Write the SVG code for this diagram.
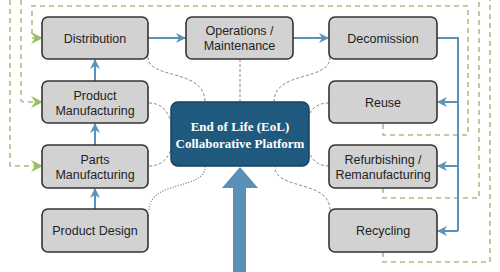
<svg xmlns="http://www.w3.org/2000/svg" width="500" height="272" viewBox="0 0 500 272">
<defs>
<style>
.node rect{fill:#d2d2d2;stroke:#333;stroke-width:1.6}
.node text{font-family:"Liberation Sans",Arial,sans-serif;font-size:12.5px;fill:#222;text-anchor:middle}
.hub rect{fill:#1f5a7e;stroke:#15415c;stroke-width:1.5}
.hub text{font-family:"Liberation Serif","Times New Roman",serif;font-weight:bold;font-size:13px;fill:#fff;text-anchor:middle}
.flow{fill:none;stroke:#5b92b8;stroke-width:2}
.loop{fill:none;stroke:#a9bc86;stroke-width:1.6;stroke-dasharray:5 4}
.gchev{fill:#93c262}
.link{fill:none;stroke:#8a8a8a;stroke-width:1;stroke-dasharray:3 2}
.dot{fill:none;stroke:#8a8a8a;stroke-width:1.2;stroke-dasharray:1.2 1.5}
</style>
<marker id="ah" markerWidth="10" markerHeight="10" refX="9" refY="5" orient="auto" markerUnits="userSpaceOnUse">
<path d="M0,0 L10,5 L0,10 L3,5 Z" fill="#5b92b8"/>
</marker>
</defs>
<rect width="500" height="272" fill="#fff"/>

<g id="connectors">
<path class="link" d="M148,57 C148,80 205,68 205,102"/>
<path class="link" d="M240,59 V102"/>
<path class="link" d="M330,57 C330,82 274,70 274,102"/>
<path class="link" d="M149,103 C162,103 168,112 171,122"/>
<path class="link" d="M149,166 C162,166 168,158 171,149"/>
<path class="dot" d="M149,210 C150,180 205,190 205,167"/>
<path class="link" d="M329,103 C318,103 312,108 309,115"/>
<path class="link" d="M329,166 C318,166 312,160 309,152"/>
<path class="link" d="M330,210 C330,180 275,190 275,167"/>

<path class="loop" d="M383,124 V135 H468 V6 H32 V38 H36"/>
<polygon class="gchev" points="43,38 31,32 35,38 31,44"/>
<path class="loop" d="M383,188 V198 H479 V0"/>
<path class="loop" d="M21,0 V100 Q21,102 24,102 H36"/>
<polygon class="gchev" points="43,102 31,96 35,102 31,108"/>
<path class="loop" d="M383,252 V262 H490 V0"/>
<path class="loop" d="M10,0 V166 H36"/>
<polygon class="gchev" points="43,166 31,160 35,166 31,172"/>

<path class="flow" d="M148,38 H185" marker-end="url(#ah)"/>
<path class="flow" d="M293,38 H328" marker-end="url(#ah)"/>
<path class="flow" d="M95,81 V60" marker-end="url(#ah)"/>
<path class="flow" d="M95,145 V124" marker-end="url(#ah)"/>
<path class="flow" d="M95,209 V189" marker-end="url(#ah)"/>
<path class="flow" d="M437,38 H458 V231"/>
<path class="flow" d="M458,102 H438" marker-end="url(#ah)"/>
<path class="flow" d="M458,166 H438" marker-end="url(#ah)"/>
<path class="flow" d="M458,231 H438" marker-end="url(#ah)"/>

<polygon points="233,272 233,188 222,188 240,167 258,188 246,188 246,272" fill="#5a8fb7"/>
</g>

<g id="distribution" class="node"><rect x="42" y="17" width="106" height="42" rx="6"/><text x="95" y="42.5">Distribution</text></g>
<g id="product-manufacturing" class="node"><rect x="42" y="81" width="106" height="42" rx="6"/><text x="95" y="99.5">Product</text><text x="95" y="114.5">Manufacturing</text></g>
<g id="parts-manufacturing" class="node"><rect x="42" y="145" width="106" height="43" rx="6"/><text x="95" y="163.5">Parts</text><text x="95" y="178.5">Manufacturing</text></g>
<g id="product-design" class="node"><rect x="42" y="209" width="106" height="43" rx="6"/><text x="95" y="235">Product Design</text></g>
<g id="operations" class="node"><rect x="186" y="17" width="107" height="42" rx="6"/><text x="239.5" y="35">Operations /</text><text x="239.5" y="50">Maintenance</text></g>
<g id="decomission" class="node"><rect x="329" y="17" width="108" height="42" rx="6"/><text x="383" y="42.5">Decomission</text></g>
<g id="reuse" class="node"><rect x="329" y="81" width="108" height="42" rx="6"/><text x="383" y="106.5">Reuse</text></g>
<g id="refurbishing" class="node"><rect x="329" y="145" width="108" height="43" rx="6"/><text x="383" y="163.5">Refurbishing /</text><text x="383" y="178.5">Remanufacturing</text></g>
<g id="recycling" class="node"><rect x="329" y="209" width="108" height="43" rx="6"/><text x="383" y="235">Recycling</text></g>
<g id="eol-platform" class="hub"><rect x="171" y="102" width="138" height="64" rx="7"/><text x="240" y="131">End of Life (EoL)</text><text x="240" y="147.5">Collaborative Platform</text></g>
</svg>
